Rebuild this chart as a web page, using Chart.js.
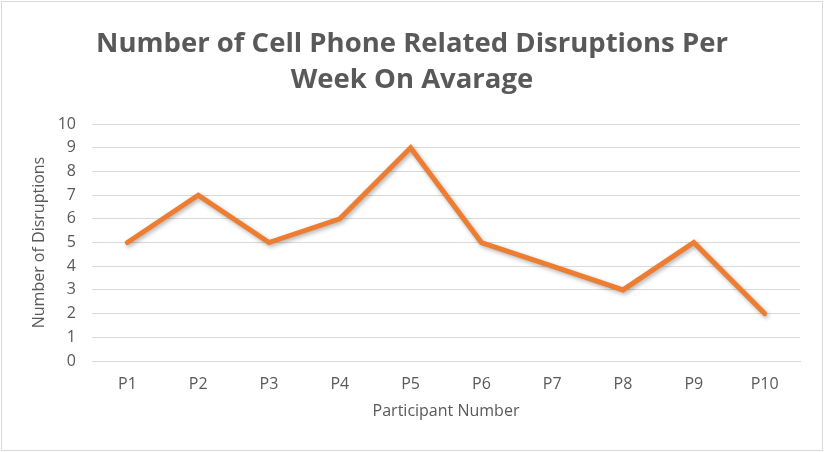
<!DOCTYPE html>
<html>
<head>
<meta charset="utf-8">
<script src="https://cdn.jsdelivr.net/npm/chart.js@4/dist/chart.umd.min.js"></script>
<style>
  html, body { margin: 0; padding: 0; background: #fff; }
</style>
</head>
<body>
<canvas id="disruptionsChart" width="824" height="452"></canvas>
<script>
var participants = ['P1', 'P2', 'P3', 'P4', 'P5', 'P6', 'P7', 'P8', 'P9', 'P10'];
var disruptions = [5, 7, 5, 6, 9, 5, 4, 3, 5, 2];
var titleLines = ['Number of Cell Phone Related Disruptions Per', 'Week On Avarage'];

var grey = '#595959';

// white background + thin frame round the chart
var framePlugin = {
    id: 'frame',
    beforeDraw: function(chart) {
        var ctx = chart.ctx;
        ctx.save();
        ctx.fillStyle = '#fff';
        ctx.fillRect(0, 0, chart.width, chart.height);
        ctx.strokeStyle = '#d9d9d9';
        ctx.lineWidth = 1;
        ctx.strokeRect(1.5, 1.5, chart.width - 3, chart.height - 3);
        ctx.restore();
    }
};

// soft shadow under the line, like the office chart
var shadowPlugin = {
    id: 'lineShadow',
    beforeDatasetsDraw: function(chart) {
        var ctx = chart.ctx;
        ctx.save();
        ctx.shadowColor = 'rgba(0, 0, 0, 0.3)';
        ctx.shadowBlur = 4;
        ctx.shadowOffsetX = 1.5;
        ctx.shadowOffsetY = 2;
    },
    afterDatasetsDraw: function(chart) {
        chart.ctx.restore();
    }
};

var ctxLine = document.getElementById('disruptionsChart');

var myLineChart = new Chart(ctxLine, {
    type: 'line',
    data: {
        labels: participants,
        datasets: [{
            data: disruptions,
            borderColor: '#ED7D31',
            borderWidth: 5,
            borderCapStyle: 'round',
            borderJoinStyle: 'miter',
            pointRadius: 0,
            tension: 0,
            fill: false
        }]
    },
    options: {
        responsive: false,
        animation: false,
        layout: {
            padding: 0
        },
        plugins: {
            legend: { display: false },
            tooltip: { enabled: false },
            title: {
                display: true,
                text: titleLines,
                color: grey,
                font: { family: 'Open Sans', size: 27.5, weight: 'bold', lineHeight: 1.31 },
                padding: { top: 26, bottom: 26 }
            }
        },
        scales: {
            x: {
                offset: true,
                grid: { display: false },
                border: { color: '#d9d9d9', width: 1 },
                ticks: {
                    color: grey,
                    font: { family: 'Open Sans', size: 16 },
                    padding: 6
                },
                title: {
                    display: true,
                    text: 'Participant Number',
                    color: grey,
                    font: { family: 'Open Sans', size: 16 },
                    padding: { top: 4, bottom: 31 }
                },
                afterFit: function(scale) {
                    scale.height = 91;
                }
            },
            y: {
                min: 0,
                max: 10,
                ticks: {
                    stepSize: 1,
                    color: grey,
                    font: { family: 'Open Sans', size: 16 },
                    padding: 16
                },
                grid: {
                    color: '#d9d9d9',
                    lineWidth: 1,
                    drawTicks: false
                },
                border: { display: false },
                title: {
                    display: true,
                    text: 'Number of Disruptions',
                    color: grey,
                    font: { family: 'Open Sans', size: 16 },
                    padding: { top: 30, bottom: 4 }
                },
                afterFit: function(scale) {
                    scale.width = 92;
                }
            },
            // empty right margin so the title centres on the whole canvas
            yRight: {
                position: 'right',
                min: 0,
                max: 10,
                grid: { display: false, drawTicks: false },
                border: { display: false },
                ticks: { display: false },
                afterFit: function(scale) {
                    scale.width = 24;
                }
            }
        }
    },
    plugins: [framePlugin, shadowPlugin]
});
</script>
</body>
</html>
